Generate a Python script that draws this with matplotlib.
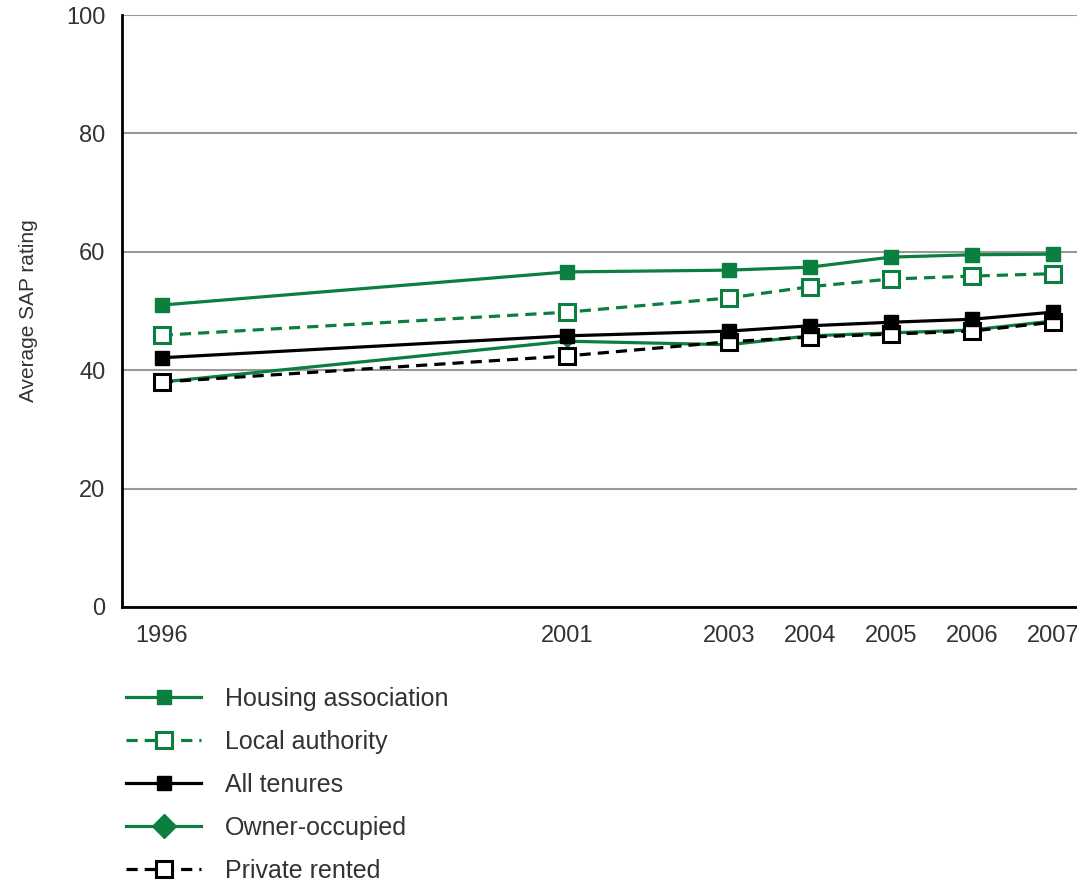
import matplotlib.pyplot as plt
import matplotlib.lines as mlines

plt.rcParams['font.family'] = ['Liberation Sans', 'DejaVu Sans']

years = [1996, 2001, 2003, 2004, 2005, 2006, 2007]
housing_assoc = [51.0, 56.6, 56.9, 57.4, 59.1, 59.5, 59.6]
local_auth = [45.9, 49.8, 52.2, 54.1, 55.4, 55.9, 56.3]
all_tenures = [42.1, 45.8, 46.6, 47.5, 48.1, 48.6, 49.8]
owner_occ = [38.0, 44.9, 44.3, 45.8, 46.3, 46.8, 48.3]
private_rented = [38.0, 42.4, 44.8, 45.6, 46.1, 46.6, 48.1]

green = '#0a7f3f'
txt = '#333333'

fig = plt.figure(figsize=(10.77, 8.83), dpi=100)
ax = fig.add_axes([0.1133, 0.3126, 0.8867, 0.6704])

dash = (3.5, 2.2)
h_ho, = ax.plot(years, housing_assoc, color=green, lw=2.3, marker='s', ms=10,
                mfc=green, mec=green, label='Housing association', zorder=5)
h_la, = ax.plot(years, local_auth, color=green, lw=2.3, ls=(0, dash), marker='s', ms=11,
                mfc='white', mec=green, mew=2.2, label='Local authority', zorder=5)
h_oo, = ax.plot(years, owner_occ, color=green, lw=2.3, marker='D', ms=6,
                mfc=green, mec=green, label='Owner-occupied', zorder=3)
h_pr, = ax.plot(years, private_rented, color='black', lw=2.3, ls=(0, dash), marker='s', ms=11,
                mfc='white', mec='black', mew=2.2, label='Private rented', zorder=4)
h_at, = ax.plot(years, all_tenures, color='black', lw=2.3, marker='s', ms=10,
                mfc='black', mec='black', label='All tenures', zorder=4)

ax.set_xlim(1995.51, 2007.3)
ax.set_ylim(0, 100)
ax.set_xticks(years)
ax.set_yticks([0, 20, 40, 60, 80, 100])
ax.tick_params(length=0, labelsize=17, labelcolor=txt)
ax.tick_params(axis='x', pad=13)
ax.tick_params(axis='y', pad=12)
ax.yaxis.grid(True, color='#999999', lw=1.5)
ax.set_axisbelow(True)
for s in ['top', 'right']:
    ax.spines[s].set_visible(False)
for s in ['left', 'bottom']:
    ax.spines[s].set_linewidth(2)
    ax.spines[s].set_color('black')
ax.set_ylabel('Average SAP rating', fontsize=15, color=txt, labelpad=20)

# legend with bigger diamond
leg_oo = mlines.Line2D([], [], color=green, lw=2.3, marker='D', ms=12, mfc=green, mec=green)
fig.legend([h_ho, h_la, h_at, leg_oo, h_pr],
           ['Housing association', 'Local authority', 'All tenures', 'Owner-occupied', 'Private rented'],
           loc='upper left', bbox_to_anchor=(0.1055, 0.2365), frameon=False, fontsize=18,
           labelcolor=txt, handlelength=3.0, handletextpad=0.96, labelspacing=0.76, borderpad=0)

fig.savefig('out.png', dpi=100)
